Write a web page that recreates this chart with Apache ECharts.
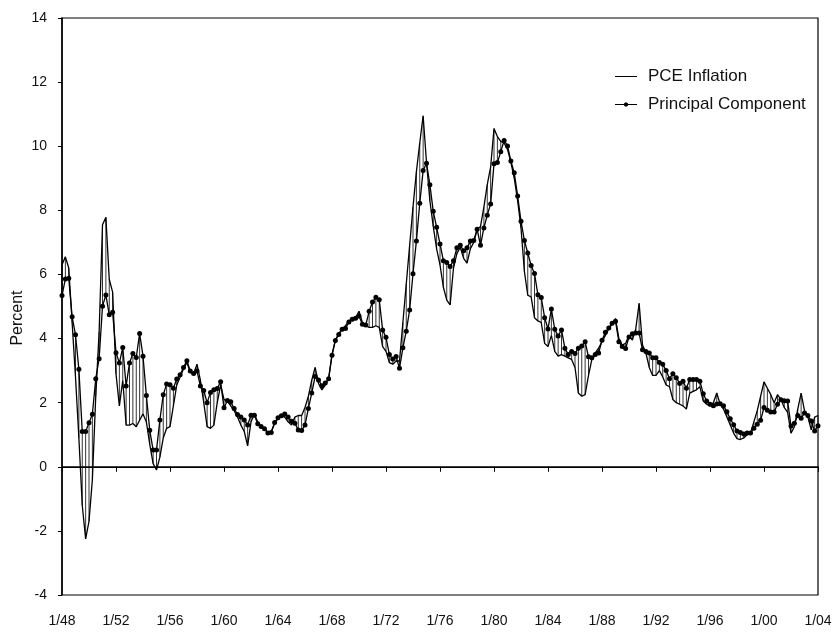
<!DOCTYPE html>
<html>
<head>
<meta charset="utf-8">
<script src="https://cdn.jsdelivr.net/npm/echarts@6/dist/echarts.min.js"></script>
<style>
  html, body { margin: 0; padding: 0; background: #fff; }
  #chart { width: 839px; height: 633px; }
</style>
</head>
<body>
<div id="chart"></div>
<script>
// quarterly, 1948Q1 .. 2004Q1 (index 0 .. 224)
var pceInflation = [
  6.3, 6.55, 6.2, 4.5, 2.8, 0.9, -1.2, -2.25, -1.7, -0.4,
  2.2, 4.2, 7.55, 7.78, 5.85, 5.45, 2.9, 1.9, 2.7, 1.3,
  1.3, 1.35, 1.25, 1.45, 1.65, 1.4, 0.7, 0.1, -0.1, 0.3,
  0.9, 1.2, 1.25, 1.9, 2.55, 2.8, 3.05, 3.25, 2.95, 2.9,
  3.2, 2.7, 2.0, 1.25, 1.2, 1.3, 2.0, 2.55, 2.1, 2.05,
  1.9, 1.75, 1.55, 1.3, 1.1, 0.65, 1.4, 1.65, 1.4, 1.2,
  1.2, 1.05, 1.1, 1.35, 1.5, 1.6, 1.55, 1.4, 1.3, 1.55,
  1.6, 1.6, 1.85, 2.2, 2.7, 3.1, 2.6, 2.4, 2.55, 2.75,
  3.5, 3.95, 4.15, 4.3, 4.4, 4.55, 4.62, 4.65, 4.85, 4.5,
  4.4, 4.35, 4.35, 4.4, 4.35, 3.75, 3.6, 3.25, 3.2, 3.3,
  3.3, 4.5, 5.7, 6.9, 8.1, 9.2, 10.1, 10.95, 9.5, 8.3,
  7.5, 6.8, 6.3, 5.6, 5.2, 5.05, 6.2, 6.65, 6.85, 6.5,
  6.35, 6.8, 7.0, 7.4, 7.5, 8.1, 8.8, 9.35, 10.55, 10.3,
  10.15, 10.1, 9.9, 9.5, 9.0, 8.3, 7.45, 6.1, 5.35, 5.3,
  4.65, 4.55, 4.5, 3.85, 3.75, 4.1, 3.6, 3.45, 3.5, 3.45,
  3.4, 3.35, 3.1, 2.3, 2.2, 2.25, 2.85, 3.35, 3.55, 3.7,
  3.9, 4.1, 4.3, 4.45, 4.62, 4.0, 3.8, 3.85, 4.1, 3.95,
  4.3, 5.1, 3.8, 3.55, 3.1, 2.85, 2.85, 3.0, 2.8, 2.55,
  2.5, 2.1, 2.0, 1.95, 1.9, 1.8, 2.3, 2.35, 2.4, 2.5,
  2.05, 1.95, 1.9, 2.0, 2.3, 1.95, 1.8, 1.55, 1.3, 1.05,
  0.88, 0.85, 0.9, 1.0, 1.05, 1.4, 1.75, 2.2, 2.65, 2.45,
  2.25, 2.0, 2.25, 2.1, 1.85, 1.7, 1.05, 1.25, 1.8, 2.3,
  1.75, 1.55, 1.15, 1.55, 1.6
];
var principalComponent = [
  5.34, 5.86, 5.88, 4.68, 4.12, 3.04, 1.1, 1.1, 1.37, 1.64,
  2.75, 3.37, 5.01, 5.36, 4.74, 4.82, 3.56, 3.24, 3.72, 2.52,
  3.24, 3.53, 3.41, 4.16, 3.45, 2.22, 1.14, 0.52, 0.52, 1.46,
  2.25, 2.58, 2.56, 2.45, 2.74, 2.87, 3.1, 3.31, 2.99, 2.91,
  2.99, 2.52, 2.38, 2.0, 2.32, 2.4, 2.44, 2.65, 1.84, 2.07,
  2.03, 1.82, 1.63, 1.55, 1.46, 1.3, 1.61, 1.61, 1.34, 1.26,
  1.19, 1.05, 1.07, 1.38, 1.53, 1.59, 1.65, 1.55, 1.42, 1.36,
  1.15, 1.13, 1.3, 1.82, 2.3, 2.82, 2.71, 2.53, 2.61, 2.75,
  3.48, 3.94, 4.13, 4.29, 4.31, 4.52, 4.6, 4.63, 4.7, 4.45,
  4.42, 4.85, 5.14, 5.29, 5.21, 4.27, 4.04, 3.5, 3.36, 3.44,
  3.07, 3.71, 4.23, 4.89, 6.02, 7.04, 8.22, 9.24, 9.47, 8.8,
  7.97, 7.47, 6.95, 6.43, 6.37, 6.25, 6.43, 6.83, 6.91, 6.74,
  6.83, 7.04, 7.06, 7.41, 6.91, 7.45, 7.85, 8.2, 9.45, 9.49,
  9.83, 10.18, 10.01, 9.54, 9.17, 8.45, 7.66, 7.06, 6.67, 6.28,
  6.03, 5.37, 5.28, 4.65, 4.3, 4.92, 4.29, 4.08, 4.27, 3.7,
  3.5, 3.6, 3.53, 3.7, 3.77, 3.9, 3.43, 3.4, 3.5, 3.55,
  3.95, 4.2, 4.33, 4.48, 4.54, 3.9, 3.75, 3.69, 4.05, 4.15,
  4.17, 4.17, 3.65, 3.6, 3.55, 3.4, 3.4, 3.25, 3.2, 3.0,
  2.75, 2.9, 2.78, 2.6, 2.67, 2.45, 2.72, 2.72, 2.72, 2.67,
  2.28, 2.05, 1.95, 1.9, 1.96, 1.97, 1.9, 1.72, 1.5, 1.31,
  1.12, 1.07, 1.02, 1.05, 1.05, 1.2, 1.33, 1.45, 1.85, 1.76,
  1.71, 1.71, 1.95, 2.09, 2.06, 2.05, 1.27, 1.36, 1.6, 1.51,
  1.68, 1.6, 1.43, 1.12, 1.28
];
var xTickLabels = ['1/48', '1/52', '1/56', '1/60', '1/64', '1/68', '1/72', '1/76',
  '1/80', '1/84', '1/88', '1/92', '1/96', '1/00', '1/04'];
var quartersPerTick = 16;

var pceData = pceInflation.map(function (v, i) { return [i, v]; });
var pcData = principalComponent.map(function (v, i) { return [i, v]; });
var gapData = pceInflation.map(function (v, i) { return [i, v, principalComponent[i]]; });

// legend icons: plain line, and line with a small dot (tiny specks keep the 28x8 box)
var boxSpecks = ' M0,0 L0.01,0 L0.01,0.01 Z M28,8 L27.99,8 L27.99,7.99 Z';
var lineIcon = 'path://M0,3.4 L22,3.4 L22,4.6 L0,4.6 Z' + boxSpecks;
var dotIcon = 'path://M0,3.4 L22,3.4 L22,4.6 L0,4.6 Z' +
  ' M13.3,4 L12.6,5.6 L11,6.3 L9.4,5.6 L8.7,4 L9.4,2.4 L11,1.7 L12.6,2.4 Z' + boxSpecks;

var font = '"Liberation Sans", Arial, Helvetica, sans-serif';
var chart = echarts.init(document.getElementById('chart'));
chart.setOption({
  animation: false,
  backgroundColor: '#fff',
  grid: {
    left: 62, right: 21, top: 18, bottom: 38,
    show: true, borderColor: '#000', borderWidth: 1.2
  },
  legend: {
    orient: 'vertical',
    left: 610, top: 63,
    itemWidth: 28, itemHeight: 8, itemGap: 11,
    textStyle: { fontFamily: font, fontSize: 17, color: '#111' },
    data: [
      { name: 'PCE Inflation', icon: lineIcon },
      { name: 'Principal Component', icon: dotIcon }
    ]
  },
  graphic: [{
    type: 'text',
    x: 18, y: 318,
    rotation: Math.PI / 2,
    style: {
      text: 'Percent', fill: '#111',
      font: '16px ' + font,
      textAlign: 'center', textVerticalAlign: 'middle'
    }
  }],
  xAxis: {
    type: 'value',
    min: 0, max: 224, interval: quartersPerTick,
    axisLine: { lineStyle: { color: '#000', width: 1.5 } },
    axisTick: { show: true, inside: false, length: 5, lineStyle: { color: '#000' } },
    axisLabel: {
      margin: 19, color: '#111', fontFamily: font, fontSize: 14,
      formatter: function (v) { return xTickLabels[Math.round(v / quartersPerTick)]; }
    },
    splitLine: { show: false }
  },
  yAxis: {
    type: 'value',
    min: -4, max: 14, interval: 2,
    axisLine: { show: true, lineStyle: { color: '#000', width: 1.5 } },
    axisTick: { show: true, inside: false, length: 4, lineStyle: { color: '#000' } },
    axisLabel: { margin: 15, color: '#111', fontFamily: font, fontSize: 14 },
    splitLine: { show: false }
  },
  series: [
    {
      type: 'custom',
      renderItem: function (params, api) {
        var a = api.coord([api.value(0), api.value(1)]);
        var b = api.coord([api.value(0), api.value(2)]);
        return {
          type: 'line',
          shape: { x1: a[0], y1: a[1], x2: b[0], y2: b[1] },
          style: { stroke: '#000', lineWidth: 0.8 }
        };
      },
      encode: { x: 0, y: [1, 2] },
      data: gapData,
      silent: true,
      z: 1
    },
    {
      name: 'PCE Inflation',
      type: 'line',
      data: pceData,
      symbol: 'none',
      lineStyle: { color: '#000', width: 1.3 },
      itemStyle: { color: '#000' },
      z: 2,
      markLine: {
        silent: true,
        symbol: ['none', 'none'],
        label: { show: false },
        lineStyle: { color: '#000', type: 'solid', width: 1.2 },
        data: [{ yAxis: 0 }]
      }
    },
    {
      name: 'Principal Component',
      type: 'line',
      data: pcData,
      symbol: 'circle',
      symbolSize: 5,
      showAllSymbol: true,
      lineStyle: { color: '#000', width: 1.3 },
      itemStyle: { color: '#000' },
      z: 3
    }
  ]
});
</script>
</body>
</html>
